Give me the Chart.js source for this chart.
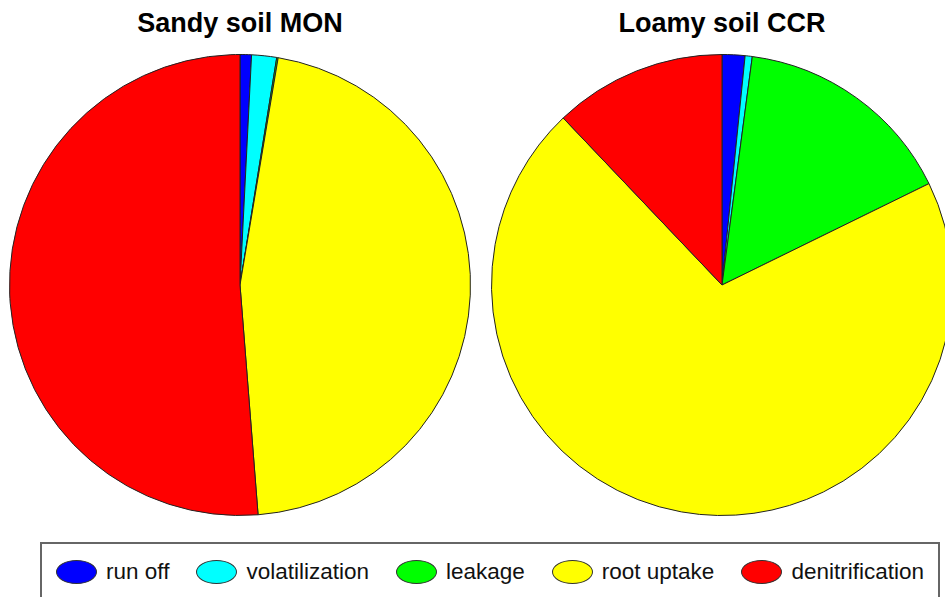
<!DOCTYPE html>
<html>
<head>
<meta charset="utf-8">
<script src="https://cdn.jsdelivr.net/npm/chart.js@4"></script>
<style>
  html, body { margin: 0; padding: 0; background: #fff; }
  body { width: 945px; height: 597px; overflow: hidden; position: relative; font-family: "Liberation Sans", Arial, sans-serif; }
  .title { position: absolute; top: 10px; width: 480px; text-align: center; font-weight: bold; font-size: 27px; line-height: 27px; color: #000; }
  canvas { position: absolute; top: 54px; }
  #legend { position: absolute; left: 40px; top: 542px; width: 900px; height: 80px; box-sizing: border-box; border: 2px solid #666; display: flex; align-items: flex-start; padding: 15px 0 0 14px; gap: 27px; font-size: 22.5px; color: #111; }
  .item { display: flex; align-items: center; }
  .dot { width: 41px; height: 24px; border-radius: 50%; box-sizing: border-box; border: 1px solid #333; margin-right: 9px; }
</style>
</head>
<body>
<div class="title" style="left:0">Sandy soil MON</div>
<div class="title" style="left:482px">Loamy soil CCR</div>
<canvas id="sandy" width="462" height="462" style="left:9px"></canvas>
<canvas id="loamy" width="462" height="462" style="left:491px"></canvas>
<div id="legend"></div>
<script>
const labels = ['run off', 'volatilization', 'leakage', 'root uptake', 'denitrification'];
const colors = ['#0000FF', '#00FFFF', '#00FF00', '#FFFF00', '#FF0000'];

// percentages, clockwise from the top
const sandyMON = [0.8, 1.75, 0.1, 46.1, 51.25];
const loamyCCR = [1.6, 0.5, 15.65, 70.15, 12.1];

function makePie(id, values) {
  return new Chart(document.getElementById(id), {
    type: 'pie',
    data: {
      labels: labels,
      datasets: [{
        data: values,
        backgroundColor: colors,
        borderColor: '#222',
        borderWidth: 1
      }]
    },
    options: {
      responsive: false,
      animation: false,
      layout: { padding: 0 },
      plugins: {
        legend: { display: false },
        tooltip: { enabled: false }
      }
    }
  });
}

makePie('sandy', sandyMON);
makePie('loamy', loamyCCR);

const legend = document.getElementById('legend');
labels.forEach((l, i) => {
  const item = document.createElement('div');
  item.className = 'item';
  const dot = document.createElement('span');
  dot.className = 'dot';
  dot.style.background = colors[i];
  const txt = document.createElement('span');
  txt.textContent = l;
  item.appendChild(dot);
  item.appendChild(txt);
  legend.appendChild(item);
});
</script>
</body>
</html>
